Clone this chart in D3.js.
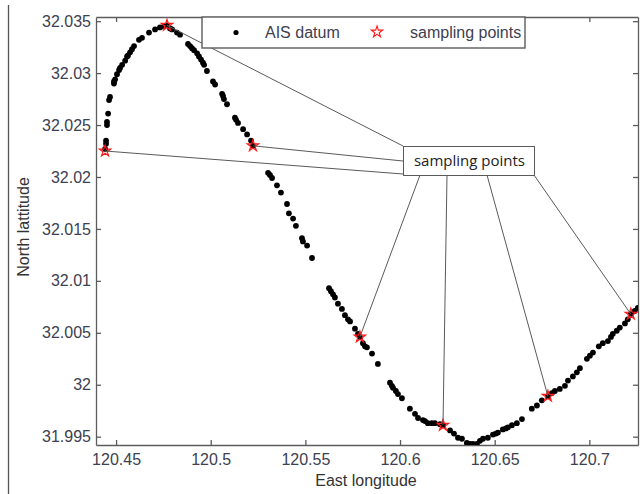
<!DOCTYPE html>
<html lang="en">
<head>
    <meta charset="UTF-8">
    <title>AIS datum and sampling points</title>
    <script src="https://cdnjs.cloudflare.com/ajax/libs/d3/7.8.5/d3.min.js"></script>
    <style>
        body, html {
            margin: 0;
            padding: 0;
            background: #fff;
            overflow: hidden;
            font-family: "Liberation Sans", Arial, sans-serif;
        }
        .axis text {
            font-size: 16px;
            fill: #3d4150;
            font-family: "Liberation Sans", Arial, sans-serif;
        }
        .axis line, .axis path {
            stroke: #5c5c5c;
            stroke-width: 1.3;
        }
    </style>
</head>
<body>
    <div id="chart"></div>

    <script>
        // AIS track (longitude / latitude)
        const aisLon = [120.4442, 120.4447, 120.4447, 120.4452, 120.4452, 120.4458, 120.4463, 120.4468, 120.4489, 120.4489,
            120.4495, 120.4505, 120.4516, 120.4521, 120.4532, 120.4548, 120.4558, 120.4563, 120.4574, 120.4584,
            120.4595, 120.4621, 120.4637, 120.4674, 120.4706, 120.4732, 120.4753, 120.4769, 120.4785, 120.4796,
            120.4822, 120.4838, 120.4880, 120.4891, 120.4901, 120.4912, 120.4928, 120.4938, 120.4949, 120.4959,
            120.4965, 120.4980, 120.5012, 120.5023, 120.5060, 120.5065, 120.5070, 120.5086, 120.5128, 120.5134,
            120.5144, 120.5171, 120.5192, 120.5213, 120.5223, 120.5303, 120.5313, 120.5324, 120.5350, 120.5371,
            120.5403, 120.5413, 120.5435, 120.5450, 120.5482, 120.5487, 120.5509, 120.5535, 120.5625, 120.5635,
            120.5646, 120.5656, 120.5672, 120.5693, 120.5709, 120.5725, 120.5736, 120.5762, 120.5778, 120.5788,
            120.5804, 120.5815, 120.5825, 120.5852, 120.5883, 120.5947, 120.5957, 120.5963, 120.5978, 120.5989,
            120.6010, 120.6052, 120.6079, 120.6095, 120.6121, 120.6132, 120.6147, 120.6168, 120.6184, 120.6211,
            120.6227, 120.6264, 120.6285, 120.6306, 120.6327, 120.6353, 120.6369, 120.6385, 120.6406, 120.6422,
            120.6438, 120.6464, 120.6491, 120.6506, 120.6517, 120.6543, 120.6559, 120.6570, 120.6591, 120.6617,
            120.6644, 120.6696, 120.6723, 120.6749, 120.6781, 120.6802, 120.6818, 120.6844, 120.6871, 120.6887,
            120.6913, 120.6934, 120.6950, 120.6987, 120.7003, 120.7019, 120.7050, 120.7071, 120.7098, 120.7114,
            120.7124, 120.7145, 120.7161, 120.7188, 120.7203, 120.7219, 120.7240, 120.7256];
        const aisLat = [32.0227, 32.0232, 32.0235, 32.0250, 32.0253, 32.0261, 32.0274, 32.0277, 32.0290, 32.0292,
            32.0294, 32.0299, 32.0303, 32.0305, 32.0308, 32.0312, 32.0316, 32.0317, 32.0320, 32.0323,
            32.0326, 32.0332, 32.0334, 32.0339, 32.0342, 32.0344, 32.0345, 32.0346, 32.0343, 32.0342,
            32.0339, 32.0337, 32.0328, 32.0326, 32.0324, 32.0322, 32.0319, 32.0316, 32.0313, 32.0310,
            32.0308, 32.0302, 32.0292, 32.0289, 32.0280, 32.0278, 32.0275, 32.0270, 32.0257, 32.0255,
            32.0252, 32.0246, 32.0241, 32.0235, 32.0230, 32.0204, 32.0202, 32.0199, 32.0192, 32.0185,
            32.0174, 32.0165, 32.0160, 32.0153, 32.0141, 32.0138, 32.0134, 32.0122, 32.0093, 32.0090,
            32.0087, 32.0084, 32.0078, 32.0073, 32.0067, 32.0063, 32.0061, 32.0054, 32.0049, 32.0046,
            32.0040, 32.0037, 32.0036, 32.0030, 32.0020, 32.0002, 31.9999, 31.9997, 31.9994, 31.9991,
            31.9987, 31.9977, 31.9972, 31.9968, 31.9966, 31.9965, 31.9963, 31.9963, 31.9963, 31.9962,
            31.9961, 31.9956, 31.9953, 31.9949, 31.9948, 31.9944, 31.9943, 31.9943, 31.9943, 31.9946,
            31.9948, 31.9949, 31.9952, 31.9953, 31.9954, 31.9957, 31.9958, 31.9959, 31.9961, 31.9963,
            31.9967, 31.9977, 31.9980, 31.9985, 31.9989, 31.9992, 31.9994, 31.9996, 31.9999, 32.0004,
            32.0008, 32.0012, 32.0016, 32.0025, 32.0028, 32.0031, 32.0037, 32.0040, 32.0042, 32.0046,
            32.0049, 32.0052, 32.0055, 32.0059, 32.0063, 32.0068, 32.0071, 32.0074];

        // sampling points
        const sampleLon = [120.4442, 120.4769, 120.5223, 120.5788, 120.6227, 120.6781, 120.7219];
        const sampleLat = [32.0225, 32.0346, 32.0230, 32.0046, 31.9961, 31.9989, 32.0068];

        const xTicks = [120.45, 120.5, 120.55, 120.6, 120.65, 120.7];
        const yTicks = [31.995, 32, 32.005, 32.01, 32.015, 32.02, 32.025, 32.03, 32.035];
        const xDomain = [120.4394, 120.7257];
        const yDomain = [31.9942, 32.0354];

        const width = 643, height = 494;
        const margin = {left: 96, right: 5, top: 17, bottom: 49};

        const svg = d3.select("#chart").append("svg")
            .attr("width", width)
            .attr("height", height);

        // stray border line at the left of the picture
        svg.append("line")
            .attr("x1", 8.5).attr("x2", 8.5)
            .attr("y1", 5).attr("y2", height)
            .attr("stroke", "#555").attr("stroke-width", 1.3);

        const x = d3.scaleLinear().domain(xDomain).range([margin.left, width - margin.right]);
        const y = d3.scaleLinear().domain(yDomain).range([height - margin.bottom, margin.top]);

        const fmt = d => String(+d.toFixed(3));

        svg.append("g").attr("class", "axis")
            .attr("transform", `translate(0,${height - margin.bottom})`)
            .call(d3.axisBottom(x).tickValues(xTicks).tickFormat(fmt).tickSizeInner(-5).tickSizeOuter(0).tickPadding(9));
        svg.append("g").attr("class", "axis")
            .attr("transform", `translate(0,${margin.top})`)
            .call(d3.axisTop(x).tickValues(xTicks).tickFormat("").tickSizeInner(-5).tickSizeOuter(0));
        svg.append("g").attr("class", "axis")
            .attr("transform", `translate(${margin.left},0)`)
            .call(d3.axisLeft(y).tickValues(yTicks).tickFormat(fmt).tickSizeInner(-5).tickSizeOuter(0).tickPadding(5));
        svg.append("g").attr("class", "axis")
            .attr("transform", `translate(${width - margin.right},0)`)
            .call(d3.axisRight(y).tickValues(yTicks).tickFormat("").tickSizeInner(-5).tickSizeOuter(0));

        svg.append("defs").append("clipPath").attr("id", "plot")
            .append("rect")
            .attr("x", margin.left).attr("y", margin.top)
            .attr("width", width - margin.left - margin.right)
            .attr("height", height - margin.top - margin.bottom);

        const ais = aisLon.map((lon, i) => ({lon, lat: aisLat[i]}));
        const samples = sampleLon.map((lon, i) => ({lon, lat: sampleLat[i]}));

        const plot = svg.append("g").attr("clip-path", "url(#plot)");

        plot.selectAll("circle.ais")
            .data(ais)
            .enter()
            .append("circle")
            .attr("class", "ais")
            .attr("cx", d => x(d.lon))
            .attr("cy", d => y(d.lat))
            .attr("r", 2.9)
            .attr("fill", "#000");

        const star = d3.symbol().type(d3.symbolStar).size(40);

        plot.selectAll("path.sample")
            .data(samples)
            .enter()
            .append("path")
            .attr("class", "sample")
            .attr("transform", d => `translate(${x(d.lon)},${y(d.lat)})`)
            .attr("d", star)
            .attr("fill", "none")
            .attr("stroke", "#ff1a1a")
            .attr("stroke-width", 1.2);

        // annotation box with leader lines
        const box = {x: 403, y: 146, w: 131, h: 29};
        const anchors = [
            [box.x, box.y + box.h - 1],
            [box.x, box.y],
            [box.x, box.y + 15],
            [box.x + 17, box.y + box.h],
            [box.x + 44, box.y + box.h],
            [box.x + 84, box.y + box.h],
            [box.x + box.w, box.y + box.h]
        ];
        svg.selectAll("line.leader")
            .data(samples)
            .enter()
            .append("line")
            .attr("class", "leader")
            .attr("x1", (d, i) => anchors[i][0])
            .attr("y1", (d, i) => anchors[i][1])
            .attr("x2", d => x(d.lon))
            .attr("y2", d => y(d.lat))
            .attr("stroke", "#5a5a5a")
            .attr("stroke-width", 1);

        svg.append("rect")
            .attr("x", box.x + 0.5).attr("y", box.y + 0.5)
            .attr("width", box.w).attr("height", box.h)
            .attr("fill", "#fff").attr("stroke", "#5a5a5a").attr("stroke-width", 1);
        svg.append("text")
            .attr("x", box.x + box.w / 2 + 1).attr("y", box.y + 20)
            .attr("text-anchor", "middle")
            .style("font-family", "'Open Sans', sans-serif")
            .style("font-size", "15px")
            .style("fill", "#222")
            .text("sampling points");

        // legend
        const legend = svg.append("g");
        legend.append("rect")
            .attr("x", 202).attr("y", margin.top)
            .attr("width", 323).attr("height", 31)
            .attr("fill", "#fff").attr("stroke", "#5c5c5c").attr("stroke-width", 1.4);
        legend.append("circle")
            .attr("cx", 236).attr("cy", 32.5).attr("r", 2.6).attr("fill", "#000");
        legend.append("text")
            .attr("x", 265).attr("y", 38)
            .style("font-size", "16px").style("fill", "#3d4150")
            .text("AIS datum");
        legend.append("path")
            .attr("transform", "translate(377,32)")
            .attr("d", star)
            .attr("fill", "none")
            .attr("stroke", "#ff1a1a")
            .attr("stroke-width", 1.1);
        legend.append("text")
            .attr("x", 410).attr("y", 38)
            .style("font-size", "16px").style("fill", "#3d4150")
            .text("sampling points");

        // axis titles
        svg.append("text")
            .attr("x", 366).attr("y", 486)
            .attr("text-anchor", "middle")
            .style("font-size", "16px").style("fill", "#333")
            .text("East longitude");
        svg.append("text")
            .attr("transform", "translate(29,227) rotate(-90)")
            .attr("text-anchor", "middle")
            .style("font-size", "16px").style("fill", "#333")
            .text("North lattitude");
    </script>
</body>
</html>
